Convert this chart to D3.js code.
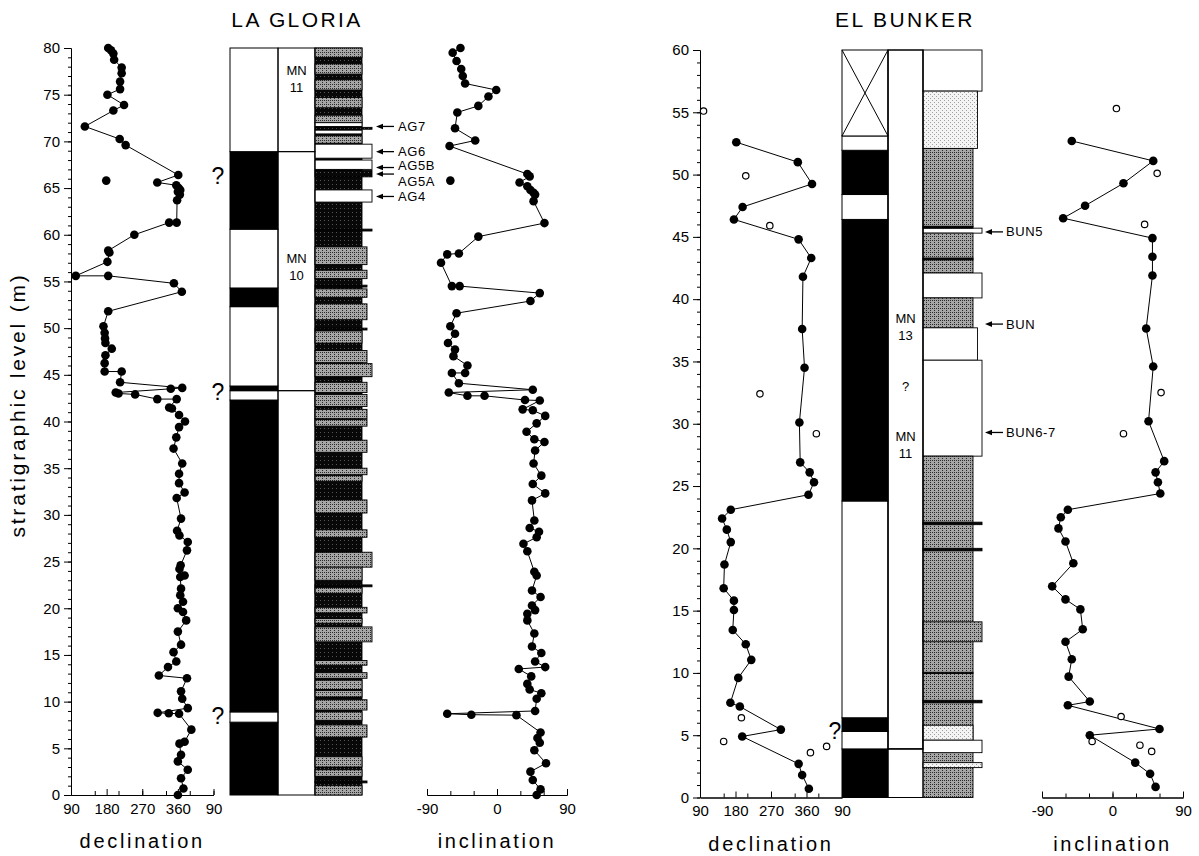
<!DOCTYPE html>
<html>
<head>
<meta charset="utf-8">
<script src="https://cdn.jsdelivr.net/npm/d3@7"></script>
<style>
body { margin: 0; background: #fff; }
svg { font-family: "Liberation Sans", Arial, Helvetica, sans-serif; }
</style>
</head>
<body>
<svg id="drawing_region"></svg>
<script>
// ---- La Gloria: [level (m), value] ----
const gloriaDec = [
  [80.0,184],[79.75,191],[79.4,197],[78.75,199],[77.9,218],[77.3,218],[76.4,214],[75.6,214],[75.0,182],
  [73.9,224],[73.3,197],[71.6,125],[70.25,213],[69.6,228],[66.4,361],[65.6,308],[65.3,356],[65.0,362],
  [64.8,366],[64.6,360],[64.3,365],[63.7,358],[61.3,357],[61.3,338],[60.0,250],[58.3,184],[58.1,187],
  [57.1,182],[55.6,102],[55.6,184],[54.8,350],[53.9,370],[51.8,184],[50.2,172],[49.5,175],[48.9,176],
  [48.4,177],[47.8,193],[47.1,177],[46.25,175],[45.35,175],[45.35,218],[44.2,214],[43.6,371],[43.5,342],
  [43.1,203],[43.0,210],[42.9,252],[42.4,308],[42.4,357],[41.5,338],[41.4,345],[40.7,363],[40.0,378],
  [39.4,363],[38.3,356],[37.1,349],[35.5,371],[34.4,363],[33.4,363],[32.4,377],[31.8,357],[29.6,368],
  [28.3,358],[27.8,364],[27.1,385],[26.2,383],[24.6,367],[24.2,364],[23.5,377],[23.35,366],[22.1,368],
  [21.4,366],[20.7,373],[20.0,360],[19.6,373],[18.7,381],[17.5,360],[16.1,368],[15.3,349],[14.3,356],
  [13.7,335],[12.8,312],[12.5,383],[11.1,368],[10.3,371],[9.3,385],[8.8,309],[8.75,337],[8.7,363],
  [7.0,394],[5.7,377],[5.5,364],[4.3,368],[3.6,360],[2.7,385],[1.8,368],[0.7,374],[0.0,360]
];
const gloriaDecLoose = [[65.8,179]];

const gloriaInc = [
  [80.0,-47],[79.5,-57],[78.6,-52],[77.75,-46],[77.0,-44],[76.2,-41],[75.5,-1],[74.8,-11],[73.8,-24],
  [73.1,-51],[71.4,-54],[70.1,-28],[69.5,-61],[66.5,39],[66.25,42],[65.6,29],[65.2,39],[64.8,43],
  [64.5,47],[64.3,49],[63.6,47],[61.25,61],[59.8,-24],[58.0,-49],[57.9,-64],[57.0,-72],[54.5,-58],
  [54.5,-48],[53.75,55],[52.9,43],[51.6,-52],[50.2,-60],[49.4,-54],[48.4,-63],[47.7,-54],[47.0,-56],
  [46.0,-38],[45.2,-41],[45.2,-58],[44.1,-49],[43.4,46],[43.1,-62],[42.75,-38],[42.75,-16],[42.3,36],
  [42.25,55],[41.3,33],[41.2,46],[40.6,62],[39.8,51],[38.9,38],[38.1,48],[37.8,61],[36.9,49],[35.5,47],
  [34.2,57],[33.3,46],[32.3,62],[31.55,45],[29.4,48],[28.6,42],[28.2,54],[27.6,51],[26.9,34],[26.1,39],
  [23.9,48],[23.5,51],[21.9,45],[21.2,56],[20.3,45],[19.8,49],[19.4,39],[18.7,39],[17.3,48],[15.9,45],
  [15.2,57],[14.3,49],[13.7,62],[13.5,28],[12.7,44],[11.9,39],[11.3,42],[10.9,57],[10.3,51],[9.0,49],
  [8.7,-64],[8.6,-33],[8.55,25],[6.7,56],[6.1,52],[5.6,55],[4.8,48],[3.4,63],[2.5,43],[1.6,46],
  [0.6,56],[0.0,51]
];
const gloriaIncLoose = [[65.8,-60]];

// polarity: [bottom, top, N/R]
const gloriaPolarity = [
  [0,7.8,'R'],[7.8,8.9,'N'],[8.9,42.3,'R'],[42.3,43.3,'N'],[43.3,43.8,'R'],
  [43.8,52.3,'N'],[52.3,54.3,'R'],[54.3,60.6,'N'],[60.6,68.9,'R'],[68.9,80,'N']
];
// biozones: [bottom, top, label, label level]
const gloriaZones = [[68.9,80,'MN|11',76.7],[43.3,68.9,'MN|10',56.6],[0,43.3,'',0]];
// lithology beds: [bottom, top, kind, grain class]
const gloriaBeds = [
  [0,80,'d',0],
  [79.0,80,'g',0],[77.2,78.3,'g',0],[75.5,76.6,'g',0],[73.6,74.7,'g',0],[72.0,72.8,'g',0],
  [71.6,72.0,'w',0],[71.3,71.5,'d',2],[70.8,71.2,'w',0],[69.8,70.6,'g',0],[68.2,69.7,'w',2],
  [67.0,68.0,'w',2],[66.2,66.9,'d',2],[63.5,64.8,'w',2],[60.4,60.6,'d',2],
  [56.8,58.7,'g',1],[55.3,56.2,'g',1],[54.4,54.6,'d',1],[53.3,54.2,'g',1],[50.9,52.6,'g',1],
  [49.8,50.0,'d',1],[48.4,49.7,'g',0],[46.3,47.6,'g',1],[44.8,46.2,'g',2],[43.1,44.2,'g',1],
  [41.6,42.9,'g',1],[40.3,41.3,'g',1],[39.5,40.2,'g',1],[36.7,38.0,'g',1],[34.3,35.0,'g',1],
  [33.6,34.2,'g',0],[30.2,31.6,'g',1],[27.6,28.4,'g',1],[24.4,26.0,'g',2],[23.0,24.4,'g',0],
  [22.3,22.5,'d',2],[21.6,22.2,'g',0],[19.5,20.1,'g',1],[18.4,18.9,'g',0],[16.4,18.0,'g',2],
  [13.9,14.4,'g',1],[12.5,13.1,'g',1],[11.3,12.3,'g',0],[10.5,11.2,'g',0],[9.1,10.2,'g',1],
  [8.0,8.9,'g',0],[6.2,7.5,'g',1],[3.0,4.1,'g',0],[2.0,2.7,'g',0],[1.3,1.5,'d',1],[0,1.0,'g',0]
];
const gloriaSamples = ['AG7','AG6','AG5B','AG5A','AG4'];
const gloriaSampleLevels = [71.6,68.9,67.2,66.5,64.1];
const gloriaQuery = [66.3,43.2,8.5];

// ---- El Bunker ----
const bunkerDec = [
  [52.6,182],[51.0,338],[49.25,374],[47.4,198],[46.4,176],[44.8,340],[43.3,372],[41.8,351],[37.6,349],
  [34.5,355],[30.1,342],[26.9,344],[26.1,368],[25.3,379],[24.3,365],[23.1,168],[22.4,146],[21.5,158],
  [20.5,168],[18.7,152],[16.8,150],[15.8,176],[15.05,176],[13.45,173],[12.3,206],[11.05,220],[9.6,187],
  [7.6,167],[7.3,191],[5.45,295],[4.9,197],[2.7,340],[1.8,349],[0.7,366]
];
const bunkerDecOpen = [[55.1,99],[49.9,206],[45.9,267],[32.4,242],[29.2,385],[6.4,195],[4.5,150],[4.1,411],[3.6,370]];
const bunkerInc = [
  [52.7,-52],[51.1,52],[49.3,14],[47.5,-35],[46.5,-63],[44.9,51],[43.4,51],[41.9,51],[37.65,43],
  [34.6,52],[30.2,46],[27.0,66],[26.1,55],[25.3,58],[24.4,61],[23.1,-57],[22.5,-66],[21.6,-69],
  [20.55,-60],[18.8,-50],[16.95,-77],[15.9,-60],[15.1,-41],[13.5,-38],[12.5,-60],[11.1,-52],[9.7,-56],
  [7.7,-29],[7.4,-57],[5.5,60],[5.0,-29],[2.8,29],[1.9,48],[0.85,55]
];
const bunkerIncOpen = [[55.3,5],[50.1,57],[46.0,41],[32.5,62],[29.2,14],[6.5,11],[4.5,-26],[4.2,35],[3.7,50]];

const bunkerPolarity = [
  [0,3.9,'R'],[3.9,5.3,'N'],[5.3,6.4,'R'],[6.4,23.8,'N'],[23.8,46.4,'R'],
  [46.4,48.4,'N'],[48.4,51.95,'R'],[51.95,53.1,'N'],[53.1,60,'X']
];
const bunkerZones = [[3.9,60,'MN|13',37.75],[3.9,60,'?',33.0],[3.9,60,'MN|11',28.3],[0,3.9,'',0]];
const bunkerBeds = [
  [56.7,60,'w',2],[52.1,56.7,'l',1],[45.8,52.1,'g',0],[45.3,45.7,'w',2],[45.7,45.85,'d',0],
  [42.1,45.3,'g',0],[43.15,43.3,'d',0],[40.1,42.1,'w',2],[37.7,40.1,'g',0],[35.1,37.7,'w',1],
  [27.4,35.1,'w',2],[0,27.4,'g',0],[21.9,22.1,'d',2],[19.8,20.0,'d',2],[12.5,14.1,'g',2],
  [9.95,10.05,'d',0],[7.6,7.8,'d',2],[4.6,5.8,'l',0],[3.6,4.6,'w',2],[2.4,2.8,'l',2]
];
const bunkerSamples = ['BUN5','BUN','BUN6-7'];
const bunkerSampleLevels = [45.4,38.0,29.3];
const bunkerQuery = [5.4];

const decTicks = d3.range(90, 451, 60);
const decLabels = [90,180,270,360,450];
const incTicks = d3.range(-90, 91, 30);
const incLabels = [-90,0,90];

// ---- drawing ----
const svg = d3.select('#drawing_region').attr('width', 1199).attr('height', 856);

const defs = svg.append('defs');
function stipple(id, bg, dot, spots) {
  const p = defs.append('pattern').attr('id', id).attr('patternUnits', 'userSpaceOnUse')
    .attr('width', 4).attr('height', 4);
  p.append('rect').attr('width', 4).attr('height', 4).attr('fill', bg);
  spots.forEach(s => p.append('rect').attr('x', s[0]).attr('y', s[1]).attr('width', 1).attr('height', 1).attr('fill', dot));
}
stipple('stipDark', '#080808', '#555', [[0,0]]);
stipple('stipGrey', '#a6a6a6', '#2a2a2a', [[0,0],[2,2],[2,0]]);
stipple('stipLight', '#f4f4f4', '#a0a0a0', [[0,0],[2,2]]);
const bedFill = {d: 'url(#stipDark)', g: 'url(#stipGrey)', l: 'url(#stipLight)', w: '#fff'};

const layouts = {
  gloria: {
    y: d3.scaleLinear().domain([0, 80]).range([795, 48]),
    dec: d3.scaleLinear().domain([90, 450]).range([71, 213.5]),
    inc: d3.scaleLinear().domain([-90, 90]).range([427, 567]),
    pol: [230, 278], zone: [278, 315], lith: 315, grain: d3.scaleLinear().domain([0, 2]).range([362, 372]),
    arrow: [376, 394, 398], query: 218, title: [297, 'LA GLORIA']
  },
  bunker: {
    y: d3.scaleLinear().domain([0, 60]).range([797.5, 50]),
    dec: d3.scaleLinear().domain([90, 450]).range([700, 842]),
    inc: d3.scaleLinear().domain([-90, 90]).range([1042, 1183]),
    pol: [842, 888], zone: [888, 923], lith: 923, grain: d3.scaleLinear().domain([0, 2]).range([973, 982]),
    arrow: [985, 1003, 1006], query: 835, title: [905, 'EL BUNKER']
  }
};

function styleAxis(g, size) {
  g.selectAll('g').attr('font-family', null).attr('font-size', size);
  g.selectAll('text').attr('fill', '#000');
  g.selectAll('path, line').attr('stroke', '#000');
}

function drawYAxis(L, maxV) {
  const x0 = L.dec.range()[0];
  const g = svg.append('g').attr('transform', `translate(${x0},0)`);
  g.append('g').call(d3.axisLeft(L.y).tickValues(d3.range(0, maxV + 1, 1)).tickSize(3).tickFormat('').tickSizeOuter(0));
  g.append('g').call(d3.axisLeft(L.y).tickValues(d3.range(0, maxV + 1, 5)).tickSize(7).tickPadding(4).tickSizeOuter(0));
  styleAxis(g, 15);
}

function drawXAxis(x, y0, ticks, labels, fmt, title) {
  const g = svg.append('g').attr('transform', `translate(0,${y0})`);
  g.append('g').call(d3.axisBottom(x).tickValues(ticks).tickSize(-4).tickFormat('').tickSizeOuter(0));
  g.append('g').call(d3.axisBottom(x).tickValues(labels).tickSize(-6).tickPadding(8).tickFormat(fmt).tickSizeOuter(0));
  styleAxis(g, 15);
  const r = x.range();
  svg.append('text').attr('x', (r[0] + r[1]) / 2).attr('y', y0 + 53)
    .attr('text-anchor', 'middle').attr('font-size', 20).attr('letter-spacing', 2.7).text(title);
}

function drawCurve(x, y, pts, loose, open) {
  const g = svg.append('g');
  g.append('path').datum(pts)
    .attr('d', d3.line().x(d => x(d[1])).y(d => y(d[0])))
    .attr('fill', 'none').attr('stroke', '#000').attr('stroke-width', 1);
  g.selectAll('circle.f').data(pts.concat(loose)).join('circle').attr('class', 'f')
    .attr('cx', d => x(d[1])).attr('cy', d => y(d[0])).attr('r', 4.3).attr('fill', '#000');
  g.selectAll('circle.o').data(open).join('circle').attr('class', 'o')
    .attr('cx', d => x(d[1])).attr('cy', d => y(d[0])).attr('r', 3.2)
    .attr('fill', '#fff').attr('stroke', '#000').attr('stroke-width', 1.2);
}

function drawColumns(L, polarity, zones, beds, samples, levels, queries, nudge) {
  const y = L.y, g = svg.append('g');
  // lithology
  g.selectAll('rect.bed').data(beds).join('rect').attr('class', 'bed')
    .attr('x', L.lith).attr('y', d => y(d[1]))
    .attr('width', d => L.grain(d[3]) - L.lith).attr('height', d => y(d[0]) - y(d[1]))
    .attr('fill', d => bedFill[d[2]]).attr('stroke', '#000').attr('stroke-width', 0.9);
  // polarity
  g.selectAll('rect.pol').data(polarity).join('rect').attr('class', 'pol')
    .attr('x', L.pol[0]).attr('y', d => y(d[1]))
    .attr('width', L.pol[1] - L.pol[0]).attr('height', d => y(d[0]) - y(d[1]))
    .attr('fill', d => d[2] === 'R' ? '#000' : '#fff').attr('stroke', '#000').attr('stroke-width', 1);
  polarity.filter(d => d[2] === 'X').forEach(d => {
    g.append('path').attr('d', `M${L.pol[0]},${y(d[1])}L${L.pol[1]},${y(d[0])}M${L.pol[1]},${y(d[1])}L${L.pol[0]},${y(d[0])}`)
      .attr('stroke', '#000').attr('stroke-width', 1);
  });
  // biozones
  g.selectAll('rect.zone').data(zones.filter(d => d[2] !== '?')).join('rect').attr('class', 'zone')
    .attr('x', L.zone[0]).attr('y', d => y(d[1]))
    .attr('width', L.zone[1] - L.zone[0]).attr('height', d => y(d[0]) - y(d[1]))
    .attr('fill', 'none').attr('stroke', '#000').attr('stroke-width', 1);
  zones.filter(d => d[2]).forEach(d => {
    const parts = d[2].split('|');
    const cx = (L.zone[0] + L.zone[1]) / 2, cy = y(d[3]);
    parts.forEach((t, i) => {
      g.append('text').attr('x', cx).attr('y', cy + (i - (parts.length - 1) / 2) * 17)
        .attr('dy', '0.35em').attr('text-anchor', 'middle').attr('font-size', 13).text(t);
    });
  });
  // sample arrows
  samples.forEach((s, i) => {
    const ay = y(levels[i]);
    g.append('line').attr('x1', L.arrow[0] + 5).attr('x2', L.arrow[1]).attr('y1', ay).attr('y2', ay)
      .attr('stroke', '#000').attr('stroke-width', 1.3);
    g.append('path').attr('d', `M${L.arrow[0]},${ay}l7,-2.8v5.6z`).attr('fill', '#000');
    g.append('text').attr('x', L.arrow[2]).attr('y', ay + (nudge[s] || 0)).attr('dy', '0.35em')
      .attr('font-size', 13).attr('letter-spacing', 0.6).text(s);
  });
  queries.forEach(q => {
    g.append('text').attr('x', L.query).attr('y', y(q)).attr('dy', '0.36em')
      .attr('text-anchor', 'middle').attr('font-size', 23).text('?');
  });
  svg.append('text').attr('x', L.title[0]).attr('y', 27).attr('text-anchor', 'middle')
    .attr('font-size', 21).attr('letter-spacing', 2.4).text(L.title[1]);
}

const fmtDec = d => String(d > 360 ? d - 360 : d);
const fmtInc = d => String(d);

// La Gloria
const G = layouts.gloria;
drawColumns(G, gloriaPolarity, gloriaZones, gloriaBeds, gloriaSamples, gloriaSampleLevels, gloriaQuery, {AG5B: -2, AG5A: 7});
drawYAxis(G, 80);
drawXAxis(G.dec, G.y(0), decTicks, decLabels, fmtDec, 'declination');
drawXAxis(G.inc, G.y(0), incTicks, incLabels, fmtInc, 'inclination');
drawCurve(G.dec, G.y, gloriaDec, gloriaDecLoose, []);
drawCurve(G.inc, G.y, gloriaInc, gloriaIncLoose, []);

// El Bunker
const B = layouts.bunker;
drawColumns(B, bunkerPolarity, bunkerZones, bunkerBeds, bunkerSamples, bunkerSampleLevels, bunkerQuery, {});
drawYAxis(B, 60);
drawXAxis(B.dec, B.y(0), decTicks, decLabels, fmtDec, 'declination');
drawXAxis(B.inc, B.y(0), incTicks, incLabels, fmtInc, 'inclination');
drawCurve(B.dec, B.y, bunkerDec, [], bunkerDecOpen);
drawCurve(B.inc, B.y, bunkerInc, [], bunkerIncOpen);

// shared y label
svg.append('text').attr('transform', 'translate(18,405) rotate(-90)').attr('dy', '0.35em')
  .attr('text-anchor', 'middle').attr('font-size', 21).attr('letter-spacing', 2.8)
  .text('stratigraphic level (m)');
</script>
</body>
</html>
